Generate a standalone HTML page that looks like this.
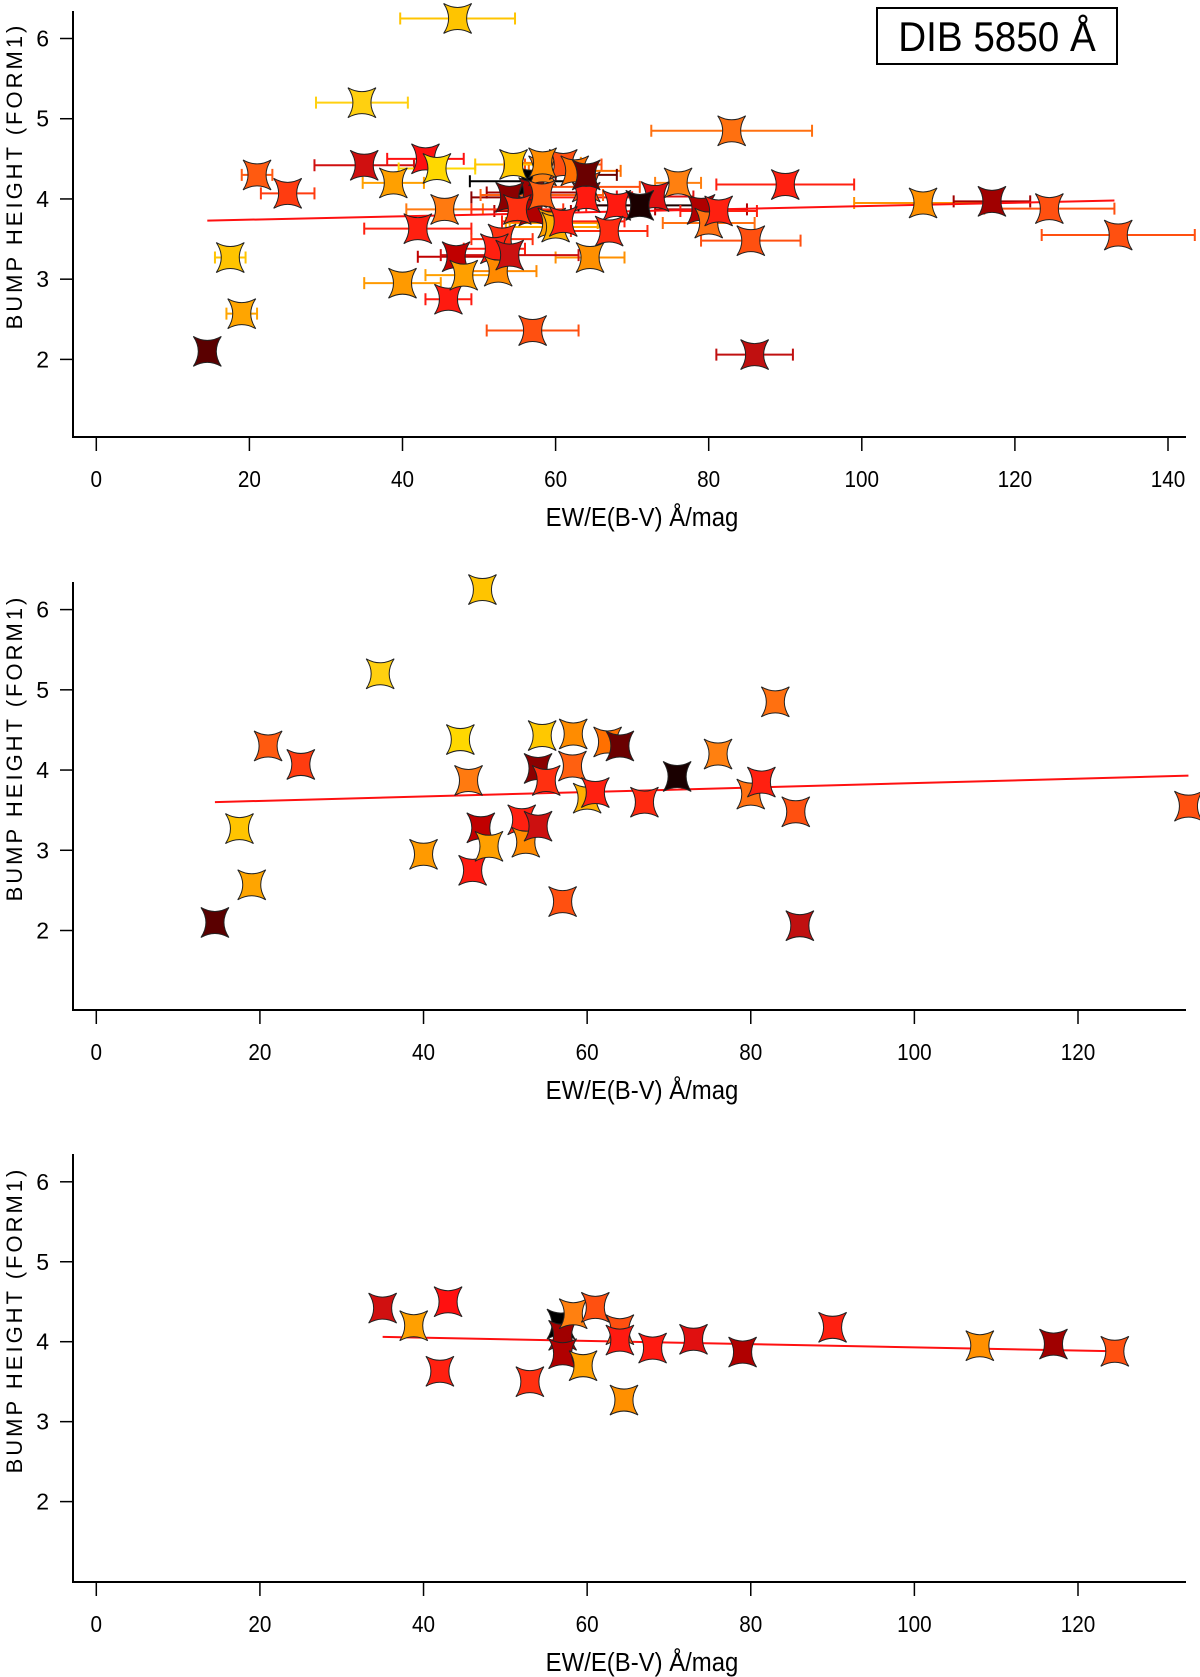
<!DOCTYPE html>
<html><head><meta charset="utf-8"><style>
html,body{margin:0;padding:0;background:#fff;}
svg{display:block;font-family:"Liberation Sans",sans-serif;}
</style></head><body>
<svg id="chart" width="1200" height="1677" viewBox="0 0 1200 1677" xmlns="http://www.w3.org/2000/svg">
<g>
<rect x="877" y="8" width="240" height="56" fill="#fff" stroke="#000" stroke-width="2"/>
<text x="997" y="51" font-size="42" text-anchor="middle" transform="translate(997,0) scale(0.92,1) translate(-997,0)">DIB 5850 Å</text>
</g>
</svg>
<script>
// Panel 2 data (points without errors)
const p2X = [14.5,17.5,19,21,25,34.7,40,44.5,45.5,46,47.2,47,48,52,52.5,54,54,54.5,55,57,58.3,58.2,60,61,62.5,64,67,71,76,80,81.3,83,85.5,86,133.5];
const p2Y = [2.1,3.27,2.57,4.3,4.07,5.2,2.95,4.38,3.87,2.75,6.25,3.28,3.05,3.38,3.1,4.02,3.3,4.43,3.87,2.36,4.45,4.05,3.65,3.72,4.35,4.3,3.6,3.92,4.2,3.7,3.85,4.85,3.48,2.06,3.55];
const p2C = ["#5a0000","#ffc400","#ffa500","#ff5a10","#ff3c10","#ffd010","#ff9a00","#ffd800","#ff7a10","#ff1a10","#ffc400","#c00000","#ffa000","#ff2010","#ff8a00","#8b0000","#cc1010","#ffc800","#ff3010","#ff5010","#ff8c00","#ff6010","#ffb000","#ff2010","#ff7000","#6a0000","#ff2a10","#1a0000","#ff8010","#ff7010","#ff2010","#ff7010","#ff5010","#c01010","#ff5010"];
const p2E = [0.8,2,2,2,3.5,6,5,5,5,3,7.5,5,5,4,5,5,9,5,6,6,5,8,6,8,6,4,5,8,3,6,5,10.5,6.5,5,10];
// Panel 3 data
const p3X = [35,38.8,42,43,53,56.8,57,57,58.3,59.5,61,64,64,64.5,68,73,79,90,108,117,124.5];
const p3Y = [4.42,4.2,3.63,4.5,3.5,4.22,4.08,3.85,4.35,3.7,4.43,4.15,4.02,3.27,3.92,4.03,3.87,4.18,3.95,3.97,3.88];
const p3C = ["#d01010","#ffa000","#ff2010","#ff1010","#ff3010","#000000","#a00000","#b00000","#ff8010","#ffa000","#ff5010","#ff5010","#ff1a10","#ff9000","#ff1a10","#e01010","#b00000","#ff2010","#ff9000","#a00000","#ff5010"];
const p3E = [6.5,4,7,5,4,8,6,5,5,6,5,7,6,4.5,4,5,6,9,9,5,8.5];
// Fit lines [x0,y0,x1,y1]
const fit1 = [14.5,3.73,133,3.98];
const fit2 = [14.5,3.6,133.5,3.93];
const fit3 = [35,4.06,124.5,3.88];
const xTicks1 = [0,20,40,60,80,100,120,140];
const xTicks23 = [0,20,40,60,80,100,120];
const yTicks = [2,3,4,5,6];

const svg = document.getElementById('chart');
const NS = 'http://www.w3.org/2000/svg';
function mk(tag, attrs, parent){const e=document.createElementNS(NS,tag);for(const k in attrs)e.setAttribute(k,attrs[k]);(parent||svg).appendChild(e);return e;}
const STAR = "M-14,-15 Q0,-7 14,-15 Q4,0 14,15 Q0,7 -14,15 Q-4,0 -14,-15Z";

function panel(idx, cfg){
  const g = mk('g',{});
  
  
  const xs = v => cfg.x0 + (v - 0) * (cfg.x120 - cfg.x0) / 120;
  const ys = v => cfg.y2 + (v - 2) * (cfg.y6 - cfg.y2) / 4;
  const ax = mk('path',{d:`M73,${cfg.top} L73,${cfg.bottom} L1186,${cfg.bottom}`,fill:'none',stroke:'#000','stroke-width':2},g);
  
  
  for(const t of cfg.xt){
    const x = xs(t);
    mk('line',{x1:x,y1:cfg.bottom,x2:x,y2:cfg.bottom+14,stroke:'#000','stroke-width':1.5},g);
    const tx = mk('text',{x:x,y:cfg.bottom+50,'font-size':23,'text-anchor':'middle',transform:`translate(${x},0) scale(0.9,1) translate(${-x},0)`},g);
    tx.textContent = t;
    
    
  }
  for(const t of yTicks){
    const y = ys(t);
    mk('line',{x1:60,y1:y,x2:73,y2:y,stroke:'#000','stroke-width':1.5},g);
    const ty = mk('text',{x:49,y:y+8,'font-size':23,'text-anchor':'end'},g);
    ty.textContent = t;
    
    
  }
  const xl = mk('text',{x:642,y:cfg.bottom+89,'font-size':26,'text-anchor':'middle',transform:`translate(642,0) scale(0.92,1) translate(-642,0)`},g);
  xl.textContent = 'EW/E(B-V) Å/mag';
  
  
  const yc = (cfg.top+cfg.bottom)/2 - 48;
  const yl = mk('text',{x:0,y:0,'font-size':22,'text-anchor':'middle','letter-spacing':'3',transform:`translate(22,${yc}) rotate(-90)`},g);
  yl.textContent = 'BUMP HEIGHT (FORM1)';
  
  
  const cid='clip'+idx;
  const cp = mk('clipPath',{id:cid},g);
  mk('rect',{x:74,y:cfg.top-30,width:1126,height:cfg.bottom-cfg.top+29},cp);
  const data = mk('g',{'clip-path':`url(#${cid})`},g);
  
  
  if(cfg.err){
    cfg.sets.forEach(s=>{
      s.X.forEach((xv,i)=>{
        const y=ys(s.Y[i]), a=xs(xv-s.E[i]), b=xs(xv+s.E[i]);
        const eb = mk('path',{d:`M${a},${y} L${b},${y} M${a},${y-6} L${a},${y+6} M${b},${y-6} L${b},${y+6}`,stroke:s.C[i],'stroke-width':2,fill:'none'},data);
        
        
      });
    });
  }
  const f = cfg.fit;
  const fl = mk('line',{x1:xs(f[0]),y1:ys(f[1]),x2:xs(f[2]),y2:ys(f[3]),stroke:'#ff1010','stroke-width':2},data);
  
  
  cfg.sets.forEach(s=>{
    s.X.forEach((xv,i)=>{
      const m = mk('path',{d:STAR,transform:`translate(${xs(xv)},${ys(s.Y[i])})`,fill:s.C[i],stroke:'#222','stroke-width':1},data);
      
      
    });
  });
}
const S2 = {X:p2X,Y:p2Y,C:p2C,E:p2E};
const S3 = {X:p3X,Y:p3Y,C:p3C,E:p3E};
panel(1,{x0:96.3,x120:96.3+(1168-96.3)*120/140,y6:38.5,y2:359.4,top:11,bottom:437,xt:xTicks1,fit:fit1,err:true,sets:[S3,S2]});
panel(2,{x0:96.3,x120:1078,y6:609.6,y2:930.5,top:582,bottom:1010,xt:xTicks23,fit:fit2,err:false,sets:[S2]});
panel(3,{x0:96.3,x120:1078,y6:1181.8,y2:1501.6,top:1154,bottom:1582,xt:xTicks23,fit:fit3,err:false,sets:[S3]});
</script>
</body></html>
